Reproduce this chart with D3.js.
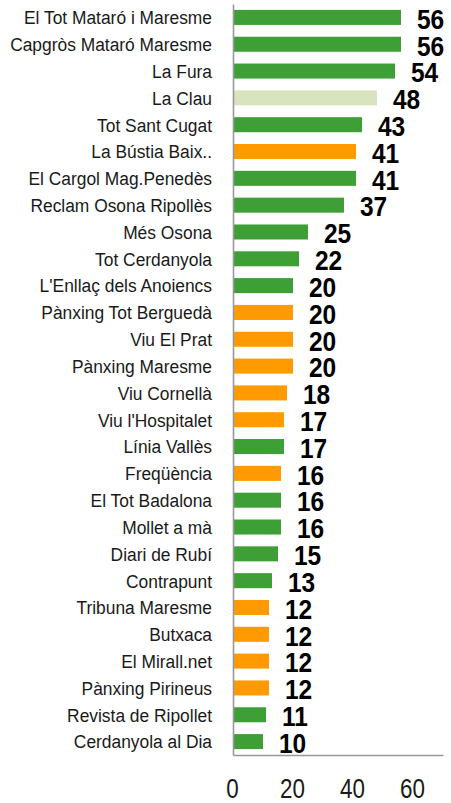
<!DOCTYPE html>
<html>
<head>
<meta charset="utf-8">
<script src="https://cdn.jsdelivr.net/npm/d3@7"></script>
<style>
  html, body { margin: 0; padding: 0; background: #fff; }
  svg { display: block; }
  .cat text { font-family: "Liberation Sans", Arial, sans-serif; font-size: 19px; fill: #1a1a1a; }
  .xax text { font-family: "Liberation Sans", Arial, sans-serif; font-size: 28px; fill: #1a1a1a; }
  .val { font-family: "Liberation Sans", Arial, sans-serif; font-size: 28.5px; font-weight: bold; fill: #000; }
</style>
</head>
<body>
<svg id="chart" width="451" height="803"></svg>
<script>
const categories = [
  "El Tot Mataró i Maresme", "Capgròs Mataró Maresme", "La Fura", "La Clau",
  "Tot Sant Cugat", "La Bústia Baix..", "El Cargol Mag.Penedès", "Reclam Osona Ripollès",
  "Més Osona", "Tot Cerdanyola", "L'Enllaç dels Anoiencs", "Pànxing Tot Berguedà",
  "Viu El Prat", "Pànxing Maresme", "Viu Cornellà", "Viu l'Hospitalet",
  "Línia Vallès", "Freqüència", "El Tot Badalona", "Mollet a mà",
  "Diari de Rubí", "Contrapunt", "Tribuna Maresme", "Butxaca",
  "El Mirall.net", "Pànxing Pirineus", "Revista de Ripollet", "Cerdanyola al Dia"
];
const values = [56, 56, 54, 48, 43, 41, 41, 37, 25, 22, 20, 20, 20, 20, 18, 17, 17, 16, 16, 16, 15, 13, 12, 12, 12, 12, 11, 10];
const groups = ["g", "g", "g", "l", "g", "o", "g", "g", "g", "g", "g", "o", "o", "o", "o", "o", "g", "o", "g", "g", "g", "g", "o", "o", "o", "o", "g", "g"];
const xTicks = [0, 20, 40, 60];
const colorMap = { g: "#3d9f35", o: "#ff9b00", l: "#d8e4bd" };

const data = categories.map((c, i) => ({ cat: c, value: values[i], group: groups[i] }));

const svg = d3.select("#chart");
const mLeft = 233, mRight = 443, mTop = 4, mBottom = 755;
const catSX = 0.915, valSX = 0.86, tickSX = 0.8;

const x = d3.scaleLinear().domain([0, 70]).range([mLeft, mRight]);
const y = d3.scaleBand().domain(categories).range([mTop, mBottom]).paddingInner(0.44).paddingOuter(0.22);

// bars
svg.append("g").selectAll("rect").data(data).join("rect")
  .attr("x", x(0))
  .attr("y", d => y(d.cat))
  .attr("width", d => x(d.value) - x(0))
  .attr("height", y.bandwidth())
  .attr("fill", d => colorMap[d.group]);

// value labels
svg.append("g").selectAll("text").data(data).join("text")
  .attr("class", "val")
  .attr("transform", d => `translate(${x(d.value) + 16},${y(d.cat) + y.bandwidth() / 2 + 1}) scale(${valSX},1)`)
  .attr("dy", "0.36em")
  .text(d => d.value);

// y axis
const yAxis = svg.append("g").attr("class", "cat")
  .attr("transform", `translate(${mLeft},0)`)
  .call(d3.axisLeft(y).tickSize(0).tickSizeOuter(0).tickPadding(21));
yAxis.select(".domain").attr("stroke", "#999").attr("stroke-width", 1.6);
yAxis.selectAll(".tick text")
  .attr("x", 0)
  .attr("transform", `translate(-21,0) scale(${catSX},1)`)
  .attr("dy", "0.36em");

// x axis
const xAxis = svg.append("g").attr("class", "xax")
  .attr("transform", `translate(0,${mBottom})`)
  .call(d3.axisBottom(x).tickValues(xTicks).tickSize(0).tickSizeOuter(0).tickPadding(23));
xAxis.select(".domain").attr("stroke", "#999").attr("stroke-width", 1.6);
xAxis.selectAll(".tick text")
  .attr("dy", "0.71em")
  .attr("transform", `translate(-1,0) scale(${tickSX},1)`);
</script>
</body>
</html>
